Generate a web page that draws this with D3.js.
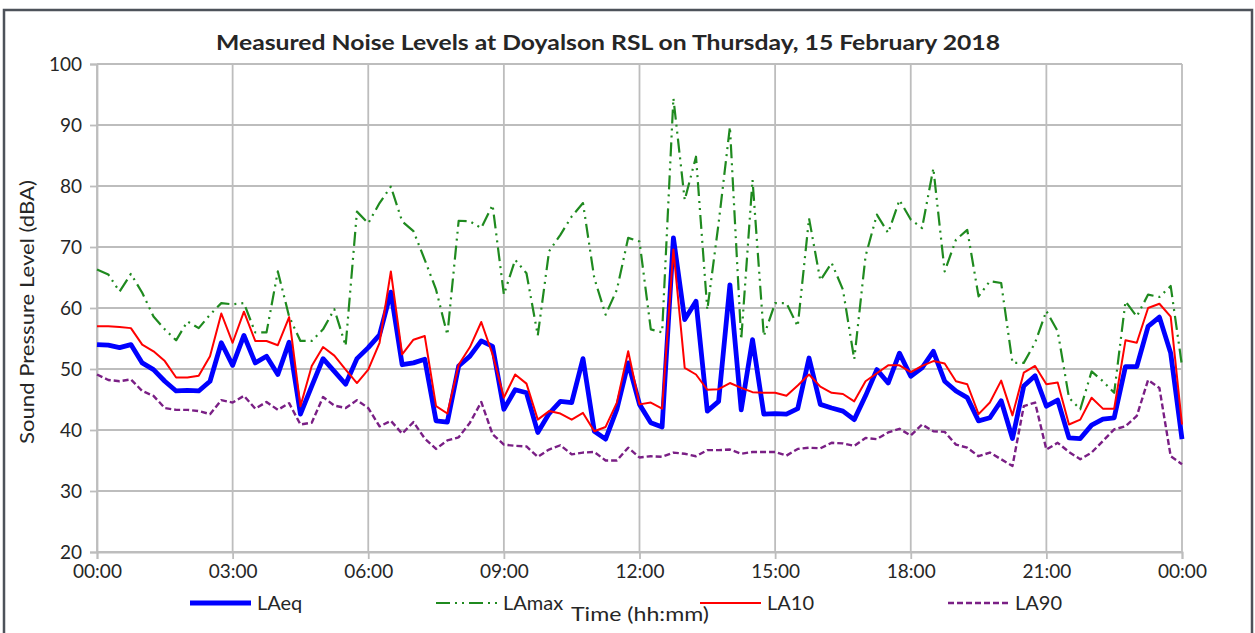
<!DOCTYPE html>
<html>
<head>
<meta charset="utf-8">
<script src="https://cdn.jsdelivr.net/npm/d3@7"></script>
<style>
  html, body { margin: 0; padding: 0; background: #ffffff; }
  svg { display: block; }
  text { font-family: Lato, "Open Sans", "Liberation Sans", sans-serif; fill: #262626; }
</style>
</head>
<body>
<svg id="chart" width="1255" height="633"></svg>
<script>
const times = [
"00:00","00:15","00:30","00:45","01:00","01:15","01:30","01:45",
"02:00","02:15","02:30","02:45","03:00","03:15","03:30","03:45",
"04:00","04:15","04:30","04:45","05:00","05:15","05:30","05:45",
"06:00","06:15","06:30","06:45","07:00","07:15","07:30","07:45",
"08:00","08:15","08:30","08:45","09:00","09:15","09:30","09:45",
"10:00","10:15","10:30","10:45","11:00","11:15","11:30","11:45",
"12:00","12:15","12:30","12:45","13:00","13:15","13:30","13:45",
"14:00","14:15","14:30","14:45","15:00","15:15","15:30","15:45",
"16:00","16:15","16:30","16:45","17:00","17:15","17:30","17:45",
"18:00","18:15","18:30","18:45","19:00","19:15","19:30","19:45",
"20:00","20:15","20:30","20:45","21:00","21:15","21:30","21:45",
"22:00","22:15","22:30","22:45","23:00","23:15","23:30","23:45",
"24:00"];

const LAeq = [
54.0,53.9,53.5,54.0,51.0,49.9,48.0,46.4,46.5,46.4,48.0,54.3,50.6,55.5,51.0,52.1,
49.1,54.4,42.6,47.2,51.7,49.6,47.5,51.7,53.5,55.6,62.6,50.7,51.0,51.6,41.5,41.3,
50.5,52.1,54.6,53.7,43.4,46.6,46.1,39.6,42.7,44.7,44.5,51.7,39.8,38.5,43.4,51.0,
44.2,41.2,40.5,71.5,58.1,61.1,43.1,44.7,63.8,43.3,54.8,42.6,42.7,42.6,43.5,51.8,
44.2,43.6,43.1,41.7,45.6,49.9,47.7,52.6,48.8,50.2,52.9,48.0,46.4,45.3,41.5,42.0,
44.8,38.6,47.2,48.9,43.9,44.9,38.7,38.6,40.8,41.8,42.0,50.4,50.4,57.0,58.5,52.6,
38.5];

const LAmax = [
66.3,65.5,62.7,65.6,62.5,58.6,56.5,54.7,57.8,56.7,58.9,60.8,60.6,60.8,56.0,56.0,
66.0,58.6,54.6,54.6,56.5,59.8,53.8,75.8,73.9,77.2,79.9,74.2,72.6,67.9,63.0,55.6,
74.3,74.2,73.1,76.9,62.2,67.9,65.7,55.5,69.3,72.0,75.0,77.2,64.9,58.9,63.0,71.5,
70.9,56.5,56.0,94.4,77.7,84.8,59.7,73.9,89.7,54.8,81.0,55.4,60.8,60.8,57.0,74.7,
64.5,67.4,63.0,51.6,68.5,75.3,72.3,77.7,74.5,73.1,82.9,66.0,71.2,72.8,61.9,64.4,
64.1,51.0,51.0,54.3,59.5,56.2,45.3,43.4,49.6,48.0,46.1,61.1,58.6,62.2,61.8,63.6,
50.5];

const LA10 = [
57.0,57.0,56.9,56.7,54.0,52.9,51.3,48.6,48.6,48.9,52.1,59.1,54.3,59.4,54.6,54.6,
53.9,58.5,43.9,50.5,53.6,52.2,49.9,47.7,49.9,54.3,66.0,52.4,54.8,55.4,43.9,42.7,
50.7,53.6,57.7,52.4,45.3,49.1,47.6,41.7,43.1,42.7,41.7,42.8,39.8,40.5,44.5,52.9,
44.2,44.5,43.5,69.6,50.2,49.1,46.6,46.7,47.7,46.9,46.2,46.1,46.1,45.6,47.3,49.1,
47.1,46.1,45.9,44.7,48.0,49.3,50.6,50.6,49.5,50.5,51.3,50.9,48.0,47.5,42.6,44.5,
48.1,42.4,49.4,50.5,47.5,47.8,40.9,41.7,45.3,43.5,43.5,54.7,54.3,60.0,60.7,58.6,
40.9];

const LA90 = [
49.1,48.2,48.0,48.3,46.4,45.6,43.6,43.3,43.3,43.1,42.6,44.9,44.5,45.6,43.5,44.6,
43.3,44.4,40.9,41.2,45.4,44.0,43.6,44.9,43.6,40.6,41.5,39.4,41.3,38.6,36.9,38.3,
38.8,41.2,44.6,39.3,37.6,37.4,37.3,35.6,36.8,37.5,36.0,36.3,36.4,35.0,35.0,37.1,
35.5,35.7,35.6,36.3,36.1,35.7,36.7,36.7,36.8,36.1,36.4,36.4,36.4,35.8,36.9,37.1,
37.0,37.9,37.8,37.4,38.7,38.5,39.6,40.2,39.1,40.9,39.8,39.7,37.6,37.1,35.7,36.3,
35.2,34.1,43.9,44.5,36.8,37.9,36.4,35.2,36.3,38.2,40.1,40.6,42.3,48.2,46.9,35.7,
34.4];

const xTickLabels = ["00:00","03:00","06:00","09:00","12:00","15:00","18:00","21:00","00:00"];
const yTicks = [20,30,40,50,60,70,80,90,100];
const seriesNames = ["LAeq","LAmax","LA10","LA90"];

const title = "Measured Noise Levels at Doyalson RSL on Thursday, 15 February 2018";
const xTitle = "Time (hh:mm)";
const yTitle = "Sound Pressure Level (dBA)";

// ---- layout ----
const svg = d3.select("#chart");
const M = {left: 97, right: 1182, top: 64, bottom: 552};
const toMin = s => { const [h, m] = s.split(":").map(Number); return h * 60 + m; };
const x = d3.scaleLinear().domain([0, 1440]).range([M.left, M.right]);
const y = d3.scaleLinear().domain([20, 100]).range([M.bottom, M.top]);
const xTickVals = xTickLabels.map((s, i) => i * 180);

// outer frame
svg.append("rect").attr("x", 4).attr("y", 10).attr("width", 1248).attr("height", 640)
  .attr("fill", "#fff").attr("stroke", "#4d525a").attr("stroke-width", 2.5);

// grid
const grid = svg.append("g");
grid.selectAll("line.h").data(yTicks).join("line")
  .attr("x1", M.left).attr("x2", M.right)
  .attr("y1", d => y(d)).attr("y2", d => y(d))
  .attr("stroke", "#bdbdbd").attr("stroke-width", 1.8);
grid.selectAll("line.v").data(xTickVals).join("line")
  .attr("x1", d => x(d)).attr("x2", d => x(d))
  .attr("y1", M.top).attr("y2", M.bottom)
  .attr("stroke", "#bdbdbd").attr("stroke-width", 1.8);

// axes
const yAxis = d3.axisLeft(y).tickValues(yTicks).tickSize(7).tickPadding(8);
const gy = svg.append("g").attr("transform", `translate(${M.left},0)`).call(yAxis);
gy.select(".domain").attr("stroke", "#bdbdbd").attr("stroke-width", 1.8);
gy.selectAll(".tick line").attr("stroke", "#bdbdbd").attr("stroke-width", 1.8);
gy.selectAll(".tick text").attr("font-size", 19).attr("fill", "#262626")
  .attr("font-family", "Lato, sans-serif");

const xAxis = d3.axisBottom(x).tickValues(xTickVals).tickSize(7).tickPadding(6)
  .tickFormat((d, i) => xTickLabels[i]);
const gx = svg.append("g").attr("transform", `translate(0,${M.bottom})`).call(xAxis);
gx.select(".domain").attr("stroke", "#bdbdbd").attr("stroke-width", 1.8);
gx.selectAll(".tick line").attr("stroke", "#bdbdbd").attr("stroke-width", 1.8);
gx.selectAll(".tick text").attr("font-size", 19).attr("fill", "#262626")
  .attr("font-family", "Lato, sans-serif");

// series
const styles = {
  LAeq:  {color: "#0000ff", width: 4.8, dash: null},
  LAmax: {color: "#1f8a1f", width: 2.2, dash: "14,5,2,5,2,5"},
  LA10:  {color: "#ff0000", width: 2, dash: null},
  LA90:  {color: "#7a1f85", width: 2.4, dash: "6,3"}
};
const dataBySeries = {LAeq, LAmax, LA10, LA90};
const line = d3.line().x(d => x(d[0])).y(d => y(d[1]));
seriesNames.forEach(name => {
  const pts = times.map((t, i) => [toMin(t), dataBySeries[name][i]]);
  const st = styles[name];
  svg.append("path").datum(pts).attr("d", line)
    .attr("fill", "none").attr("stroke", st.color).attr("stroke-width", st.width)
    .attr("stroke-linejoin", "round")
    .attr("stroke-dasharray", st.dash);
});

// title
svg.append("text").attr("x", 608).attr("y", 50).attr("text-anchor", "middle")
  .attr("font-size", 21).attr("font-weight", "bold").attr("fill", "#111")
  .attr("textLength", 784).attr("lengthAdjust", "spacingAndGlyphs")
  .text(title);

// y title
svg.append("text").attr("transform", "translate(34,312) rotate(-90)")
  .attr("text-anchor", "middle").attr("font-size", 18.5)
  .attr("textLength", 264).attr("lengthAdjust", "spacingAndGlyphs")
  .text(yTitle);

// x title
svg.append("text").attr("x", 640).attr("y", 621).attr("text-anchor", "middle")
  .attr("font-size", 20).attr("textLength", 138).attr("lengthAdjust", "spacingAndGlyphs")
  .text(xTitle);

// legend
const legendX = [190, 436, 700, 948];
const legend = svg.append("g");
seriesNames.forEach((name, i) => {
  const st = styles[name];
  legend.append("line").attr("x1", legendX[i]).attr("x2", legendX[i] + 61)
    .attr("y1", 603).attr("y2", 603)
    .attr("stroke", st.color).attr("stroke-width", st.width)
    .attr("stroke-dasharray", st.dash);
  legend.append("text").attr("x", legendX[i] + 67).attr("y", 610)
    .attr("font-size", 20).text(name);
});
</script>
</body>
</html>
